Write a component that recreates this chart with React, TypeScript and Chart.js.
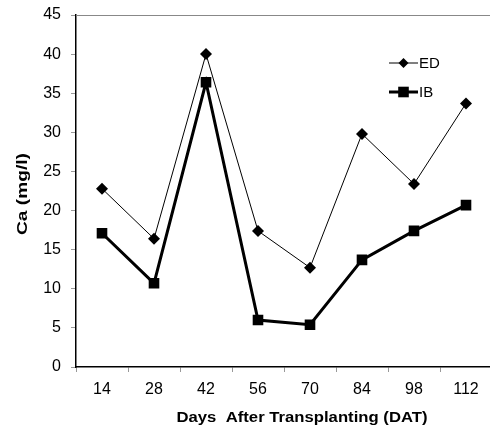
import React, { useEffect, useRef } from "react";
import { Chart, registerables } from "chart.js";

Chart.register(...registerables);

const categories = ["14", "28", "42", "56", "70", "84", "98", "112"];
const edValues = [22.8, 16.4, 40.0, 17.4, 12.7, 29.8, 23.4, 33.7];
const ibValues = [17.1, 10.7, 36.4, 6.0, 5.4, 13.7, 17.4, 20.7];
const seriesNames = ["ED", "IB"];
const yTitle = "Ca (mg/l)";
const xTitle = "Days  After Transplanting (DAT)";

const FONT = "'Liberation Sans', Arial, sans-serif";

const decorPlugin = {
  id: "decor",
  afterDraw(chart: any) {
    const ctx = chart.ctx;
    const a = chart.chartArea;
    ctx.save();
    // top border
    ctx.strokeStyle = "#888888";
    ctx.lineWidth = 1;
    ctx.beginPath();
    ctx.moveTo(a.left, a.top + 0.5);
    ctx.lineTo(a.right, a.top + 0.5);
    ctx.stroke();

    // y title (stretched to match)
    ctx.fillStyle = "#000";
    ctx.font = `bold 15px ${FONT}`;
    ctx.textAlign = "center";
    ctx.textBaseline = "middle";
    const yw = ctx.measureText(yTitle).width;
    ctx.save();
    ctx.translate(23, (a.top + a.bottom) / 2 + 3);
    ctx.rotate(-Math.PI / 2);
    ctx.scale(82 / yw, 1);
    ctx.fillText(yTitle, 0, 0);
    ctx.restore();

    // x title
    const xw = ctx.measureText(xTitle).width;
    ctx.save();
    ctx.translate(a.left + 226, a.bottom + 51);
    ctx.scale(251 / xw, 1);
    ctx.fillText(xTitle, 0, 0);
    ctx.restore();

    // legend
    const items = chart.data.datasets;
    const lx = a.left + 313;
    const ly = [a.top + 48, a.top + 77];
    items.forEach((ds: any, i: number) => {
      const y = ly[i];
      ctx.strokeStyle = ds.borderColor;
      ctx.lineWidth = ds.borderWidth;
      ctx.beginPath();
      ctx.moveTo(lx, y);
      ctx.lineTo(lx + 29, y);
      ctx.stroke();
      ctx.fillStyle = ds.pointBackgroundColor;
      ctx.beginPath();
      if (ds.pointStyle === "rectRot") {
        const r = ds.pointRadius - 1;
        ctx.moveTo(lx + 14.5 - r, y);
        ctx.lineTo(lx + 14.5, y - r);
        ctx.lineTo(lx + 14.5 + r, y);
        ctx.lineTo(lx + 14.5, y + r);
        ctx.closePath();
      } else {
        const s = ds.pointRadius * Math.SQRT1_2;
        ctx.rect(lx + 14.5 - s, y - s, 2 * s, 2 * s);
      }
      ctx.fill();
      ctx.fillStyle = "#000";
      ctx.font = `15px ${FONT}`;
      ctx.textAlign = "left";
      ctx.textBaseline = "middle";
      ctx.fillText(ds.label, lx + 30, y + 1);
    });
    ctx.restore();
  },
};

export default function App() {
  const ref = useRef<HTMLCanvasElement>(null);
  useEffect(() => {
    if (!ref.current) return;
    const chart = new Chart(ref.current, {
      type: "line",
      data: {
        labels: categories,
        datasets: [
          {
            label: seriesNames[0],
            data: edValues,
            borderColor: "#000",
            borderWidth: 1,
            pointStyle: "rectRot",
            pointRadius: 6,
            pointBackgroundColor: "#000",
            pointBorderColor: "#000",
            pointBorderWidth: 0,
            tension: 0,
          },
          {
            label: seriesNames[1],
            data: ibValues,
            borderColor: "#000",
            borderWidth: 3,
            pointStyle: "rect",
            pointRadius: 7.5,
            pointBackgroundColor: "#000",
            pointBorderColor: "#000",
            pointBorderWidth: 0,
            tension: 0,
          },
        ],
      },
      options: {
        animation: false,
        responsive: false,
        layout: { padding: { left: 0, top: 15, right: 8, bottom: 0 } },
        plugins: { legend: { display: false }, tooltip: { enabled: false } },
        scales: {
          x: {
            offset: true,
            grid: {
              offset: true,
              drawOnChartArea: false,
              drawTicks: true,
              tickLength: 5,
              tickColor: "#999",
            },
            border: { color: "#000", width: 1.5 },
            ticks: { color: "#000", font: { family: FONT, size: 16 }, padding: 8, maxRotation: 0 },
            afterFit: (s: any) => {
              s.height = 61;
              s.paddingLeft = 0;
              s.paddingRight = 0;
            },
          },
          y: {
            min: 0,
            max: 45,
            grid: {
              drawOnChartArea: false,
              drawTicks: true,
              tickLength: 5,
              tickColor: "#999",
            },
            border: { color: "#000", width: 1.5 },
            ticks: { stepSize: 5, color: "#000", font: { family: FONT, size: 16 }, padding: 10 },
            afterFit: (s: any) => {
              s.width = 76;
              s.paddingTop = 0;
              s.paddingBottom = 0;
            },
          },
        },
      },
      plugins: [decorPlugin],
    });
    return () => chart.destroy();
  }, []);
  return (
    <div style={{ position: "fixed", left: 0, top: 0, width: 490, height: 428, overflow: "hidden", background: "#fff" }}>
      <canvas ref={ref} width={500} height={428} style={{ display: "block" }} />
    </div>
  );
}
